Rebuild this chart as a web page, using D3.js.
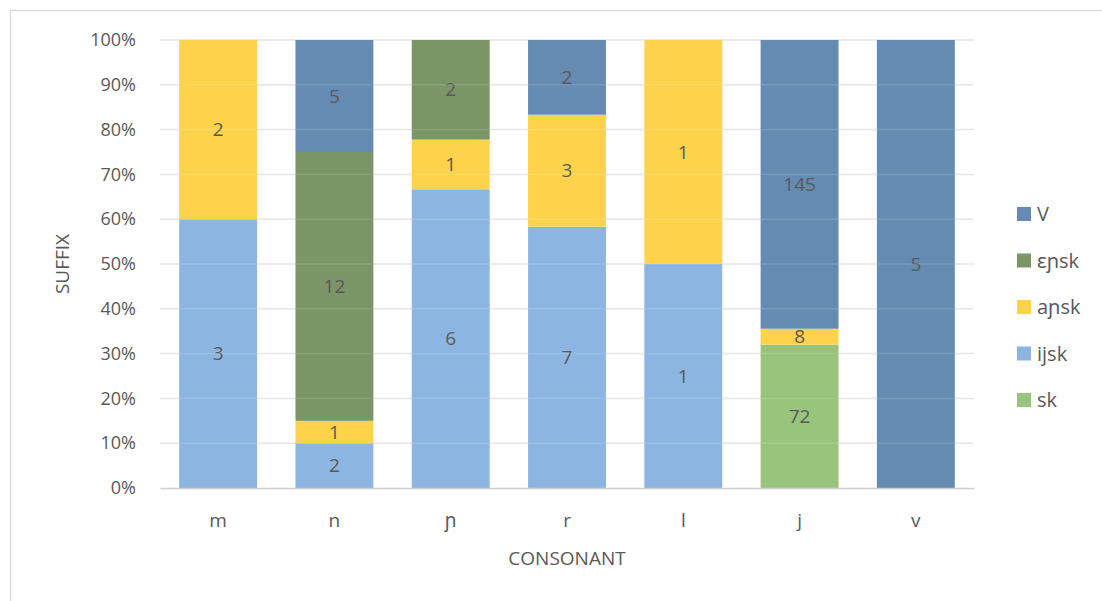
<!DOCTYPE html>
<html>
<head>
<meta charset="utf-8">
<script src="https://cdn.jsdelivr.net/npm/d3@7"></script>
<style>
  body { margin: 0; background: #fff; }
  text { font-family: "Open Sans", "Noto Sans", sans-serif; fill: #595959; }
</style>
</head>
<body>
<script>
// categories and series (bottom to top)
var consonants = ["m", "n", "ɲ", "r", "l", "j", "v"];
var seriesNames = ["sk", "ijsk", "aɲsk", "ɛɲsk", "V"];
var skVals   = [0, 0, 0, 0, 0, 72, 0];
var ijskVals = [3, 2, 6, 7, 1, 0, 0];
var anskVals = [2, 1, 1, 3, 1, 8, 0];
var enskVals = [0, 12, 2, 0, 0, 0, 0];
var vVals    = [0, 5, 0, 2, 0, 145, 5];
var colors = ["#99c47c", "#8cb6e1", "#fdd34b", "#7b9566", "#658bb2"];
var yTicks = [0, 0.1, 0.2, 0.3, 0.4, 0.5, 0.6, 0.7, 0.8, 0.9, 1];

var svgWidth = 1102, svgHeight = 601;
var margin = { top: 40, left: 160 };
var width = 814, height = 448;

var svg = d3.select("body").append("svg")
  .attr("width", svgWidth)
  .attr("height", svgHeight);

// outer frame
svg.append("rect")
  .attr("x", 10.5).attr("y", 10.5)
  .attr("width", svgWidth + 20).attr("height", svgHeight + 20)
  .attr("fill", "none").attr("stroke", "#d9d9d9").attr("stroke-width", 1.5);

var chartGroup = svg.append("g")
  .attr("transform", `translate(${margin.left}, ${margin.top})`);

// build table rows
var allVals = [skVals, ijskVals, anskVals, enskVals, vVals];
var rows = consonants.map(function(c, i) {
  var row = { c: c };
  var total = 0;
  seriesNames.forEach(function(s, k) { row[s] = allVals[k][i]; total += allVals[k][i]; });
  seriesNames.forEach(function(s) { row[s] = row[s] / total; });
  row.raw = allVals.map(function(a) { return a[i]; });
  return row;
});

var stacked = d3.stack().keys(seriesNames)(rows);

var xScale = d3.scaleBand().domain(consonants).range([0, width]).paddingInner(0.33).paddingOuter(0.165);
var yScale = d3.scaleLinear().domain([0, 1]).range([height, 0]);

// gridlines
chartGroup.append("g").selectAll("line")
  .data(yTicks.slice(1))
  .enter().append("line")
  .attr("x1", 0).attr("x2", width)
  .attr("y1", d => yScale(d)).attr("y2", d => yScale(d))
  .attr("stroke", "#e3e3e3").attr("stroke-width", 1.5);

// bars
var layers = chartGroup.selectAll("g.layer")
  .data(stacked)
  .enter().append("g")
  .attr("class", "layer")
  .attr("fill", (d, i) => colors[i]);

layers.selectAll("rect")
  .data(d => d)
  .enter().append("rect")
  .attr("x", d => xScale(d.data.c))
  .attr("y", d => yScale(d[1]))
  .attr("width", xScale.bandwidth())
  .attr("height", d => yScale(d[0]) - yScale(d[1]));

// faint gridlines through bars (as in original)
chartGroup.append("g").selectAll("line")
  .data(yTicks.slice(1, -1))
  .enter().append("line")
  .attr("x1", 0).attr("x2", width)
  .attr("y1", d => yScale(d)).attr("y2", d => yScale(d))
  .attr("stroke", "#ffffff").attr("stroke-opacity", 0.12).attr("stroke-width", 1.5);

// data labels
layers.each(function(layer, k) {
  d3.select(this).selectAll("text")
    .data(layer.filter(d => d.data.raw[k] > 0))
    .enter().append("text")
    .attr("x", d => xScale(d.data.c) + xScale.bandwidth() / 2)
    .attr("y", d => (yScale(d[0]) + yScale(d[1])) / 2)
    .attr("dy", "0.35em")
    .attr("text-anchor", "middle")
    .style("font-size", "19px")
    .text(d => d.data.raw[k]);
});

// x axis
var xAxis = chartGroup.append("g")
  .attr("transform", `translate(0, ${height})`)
  .call(d3.axisBottom(xScale).tickSize(0).tickPadding(26));
xAxis.select(".domain").attr("stroke", "#d0d0d0").attr("stroke-width", 1.5);
xAxis.selectAll("text").style("font-size", "19px").style("fill", "#595959");

// y axis
var yAxis = chartGroup.append("g")
  .call(d3.axisLeft(yScale).tickValues(yTicks).tickFormat(d3.format(".0%")).tickSize(0).tickPadding(24));
yAxis.select(".domain").remove();
yAxis.selectAll("text").style("font-size", "18px").style("fill", "#595959");

// axis titles
svg.append("text")
  .attr("x", margin.left + width / 2)
  .attr("y", 565)
  .attr("text-anchor", "middle")
  .style("font-size", "19px")
  .text("CONSONANT");

svg.append("text")
  .attr("transform", `translate(69, ${margin.top + height / 2}) rotate(-90)`)
  .attr("text-anchor", "middle")
  .style("font-size", "19px")
  .text("SUFFIX");

// legend (top to bottom: V ... sk)
var legendItems = seriesNames.map((s, i) => ({ name: s, color: colors[i] })).reverse();
var legend = svg.append("g").attr("transform", "translate(1017, 207)");
var item = legend.selectAll("g")
  .data(legendItems)
  .enter().append("g")
  .attr("transform", (d, i) => `translate(0, ${i * 46.5})`);
item.append("rect")
  .attr("width", 14).attr("height", 14)
  .attr("fill", d => d.color);
item.append("text")
  .attr("x", 20).attr("y", 7)
  .attr("dy", "0.35em")
  .style("font-size", "20px")
  .text(d => d.name);
</script>
</body>
</html>
